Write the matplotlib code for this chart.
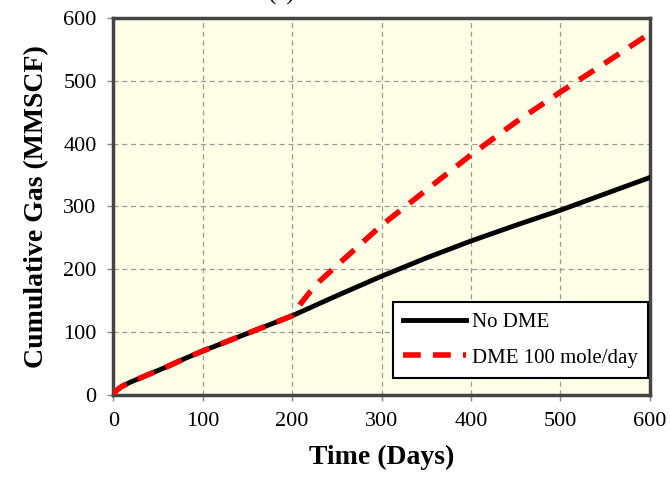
import matplotlib
matplotlib.use("Agg")
import matplotlib.pyplot as plt

# Data
t_no = [0, 2, 5, 10, 20, 40, 60, 80, 100, 125, 150, 175, 200, 250, 300, 350, 400, 450, 500, 550, 600]
gas_no = [0, 5, 9, 14, 21, 33, 45, 58, 70, 84, 98, 112, 126, 158, 189, 218, 245, 270, 294, 320, 346]

t_dme = [0, 2, 5, 10, 20, 40, 60, 80, 100, 125, 150, 175, 200, 205, 210, 220, 230, 250, 275, 300, 350, 400, 450, 500, 550, 600]
gas_dme = [0, 5, 9, 14, 21, 33, 45, 58, 70, 84, 98, 112, 126, 136, 146, 164, 180, 206, 238, 270, 326, 382, 434, 482, 528, 575]

xticks = [0, 100, 200, 300, 400, 500, 600]
yticks = [0, 100, 200, 300, 400, 500, 600]

plt.rcParams['font.family'] = ['Liberation Serif', 'DejaVu Serif']

fig = plt.figure(figsize=(6.7, 4.8), dpi=100)
ax = fig.add_axes([0.169, 0.177, 0.801, 0.786])
ax.set_facecolor('#FFFFE8')

ax.plot(t_no, gas_no, color='black', lw=3.5, label='No DME', zorder=3)
ax.plot(t_dme, gas_dme, color='#FF0000', lw=4.0, ls=(0, (3.2, 2.2)), label='DME 100 mole/day', zorder=4)

ax.set_xlim(0, 600)
ax.set_ylim(0, 600)
ax.set_xticks(xticks)
ax.set_yticks(yticks)
ax.tick_params(axis='both', labelsize=16, length=4, width=1, color='#888888', direction='out', pad=8)
ax.grid(True, color='#999999', ls=(0, (4, 3)), lw=0.9)
ax.set_axisbelow(True)
for s in ax.spines.values():
    s.set_linewidth(2.5)
    s.set_color('#444444')

ax.set_xlabel('Time (Days)', fontsize=20, fontweight='bold', labelpad=10)
ax.set_ylabel('Cumulative Gas (MMSCF)', fontsize=20, fontweight='bold', labelpad=10)

leg = ax.legend(loc='lower right', bbox_to_anchor=(0.997, 0.045), borderaxespad=0, fontsize=15,
                fancybox=False, framealpha=1, edgecolor='black', handlelength=3.0, borderpad=0.5,
                labelspacing=0.75, handletextpad=0.3)
leg.get_frame().set_linewidth(1.5)

fig.text(0.42, 1 - 5 / 480, '(a)', fontsize=18, ha='center', va='bottom')

fig.savefig('out.png', dpi=100)
